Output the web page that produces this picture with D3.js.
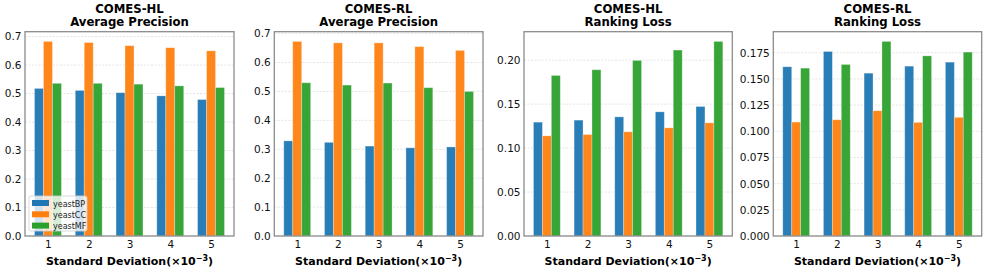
<!DOCTYPE html>
<html>
<head>
<meta charset="utf-8">
<script src="https://cdn.jsdelivr.net/npm/d3@7"></script>
<style>
  body { margin: 0; background: #fff; }
  svg { font-family: "DejaVu Sans", sans-serif; }
</style>
</head>
<body>
<svg id="chart" width="986" height="272"></svg>
<script>
// categories (standard deviation x10^-3)
const categories = [1, 2, 3, 4, 5];
const seriesNames = ['yeastBP', 'yeastCC', 'yeastMF'];
const colors = ['#1f77b4', '#ff7f0e', '#2ca02c'];

// panel values, one array per dataset
const hlAP_BP = [0.518, 0.511, 0.503, 0.492, 0.479];
const hlAP_CC = [0.683, 0.679, 0.668, 0.661, 0.650];
const hlAP_MF = [0.536, 0.536, 0.533, 0.527, 0.521];

const rlAP_BP = [0.329, 0.324, 0.311, 0.305, 0.308];
const rlAP_CC = [0.673, 0.668, 0.668, 0.655, 0.642];
const rlAP_MF = [0.530, 0.522, 0.529, 0.513, 0.500];

const hlRL_BP = [0.1295, 0.1318, 0.1355, 0.1412, 0.1473];
const hlRL_CC = [0.1139, 0.1154, 0.1185, 0.1230, 0.1287];
const hlRL_MF = [0.1826, 0.1891, 0.1997, 0.2115, 0.2213];

const rlRL_BP = [0.1616, 0.1762, 0.1555, 0.1622, 0.1660];
const rlRL_CC = [0.1088, 0.1110, 0.1196, 0.1085, 0.1133];
const rlRL_MF = [0.1603, 0.1638, 0.1858, 0.1720, 0.1756];

const titles = [
  ['COMES-HL', 'Average Precision'],
  ['COMES-RL', 'Average Precision'],
  ['COMES-HL', 'Ranking Loss'],
  ['COMES-RL', 'Ranking Loss']
];
const yTicks = [
  [0, 0.1, 0.2, 0.3, 0.4, 0.5, 0.6, 0.7],
  [0, 0.1, 0.2, 0.3, 0.4, 0.5, 0.6, 0.7],
  [0, 0.05, 0.10, 0.15, 0.20],
  [0, 0.025, 0.05, 0.075, 0.1, 0.125, 0.15, 0.175]
];
const yFormats = ['.1f', '.1f', '.2f', '.3f'];
const panelData = [
  [hlAP_BP, hlAP_CC, hlAP_MF],
  [rlAP_BP, rlAP_CC, rlAP_MF],
  [hlRL_BP, hlRL_CC, hlRL_MF],
  [rlRL_BP, rlRL_CC, rlRL_MF]
];

const xLabel = 'Standard Deviation(\u00d710';
const barW = 0.22;

const panels = [
  {x0: 25, x1: 234},
  {x0: 274.3, x1: 483},
  {x0: 524, x1: 732.3},
  {x0: 773.3, x1: 981.7}
];
const plotTop = 31.7, plotBottom = 236;

const svg = d3.select('#chart');

panels.forEach((p, pi) => {
  const data = panelData[pi];
  const ymax = d3.max(data.flat()) * 1.05;
  // matplotlib-like margins around bars
  const lo = 1 - 1.5 * barW, hi = 5 + 1.5 * barW;
  const m = (hi - lo) * 0.05;
  const x = d3.scaleLinear().domain([lo - m, hi + m]).range([p.x0, p.x1]);
  const y = d3.scaleLinear().domain([0, ymax]).range([plotBottom, plotTop]);

  const g = svg.append('g');

  // grid
  g.selectAll('.grid').data(yTicks[pi]).enter().append('line')
    .attr('x1', p.x0).attr('x2', p.x1)
    .attr('y1', d => y(d)).attr('y2', d => y(d))
    .attr('stroke', '#d9d9d9').attr('stroke-width', 0.7)
    .attr('stroke-dasharray', '2,1.5');

  // bars
  data.forEach((vals, si) => {
    g.selectAll('.bar' + si).data(vals).enter().append('rect')
      .attr('x', (d, i) => x(categories[i] + (si - 1) * barW - barW / 2))
      .attr('width', x(barW) - x(0))
      .attr('y', d => y(d))
      .attr('height', d => y(0) - y(d))
      .attr('fill', colors[si])
      .attr('fill-opacity', 0.95)
      .attr('stroke', '#fff').attr('stroke-opacity', 0.35).attr('stroke-width', 0.8);
  });

  // frame
  g.append('rect')
    .attr('x', p.x0).attr('y', plotTop)
    .attr('width', p.x1 - p.x0).attr('height', plotBottom - plotTop)
    .attr('fill', 'none').attr('stroke', '#8c8c8c').attr('stroke-width', 1.3);

  // y tick labels
  const yAxis = d3.axisLeft(y).tickValues(yTicks[pi]).tickFormat(d3.format(yFormats[pi]))
    .tickSize(0).tickPadding(3.5);
  const ya = g.append('g').attr('transform', `translate(${p.x0},0)`).call(yAxis);
  ya.select('.domain').remove();
  ya.selectAll('text').attr('font-size', 10.5).attr('fill', '#111')
    .attr('font-family', '"DejaVu Sans", sans-serif');

  // x tick labels
  const xAxis = d3.axisBottom(x).tickValues(categories).tickFormat(d3.format('d'))
    .tickSize(0).tickPadding(4.5);
  const xa = g.append('g').attr('transform', `translate(0,${plotBottom})`).call(xAxis);
  xa.select('.domain').remove();
  xa.selectAll('text').attr('font-size', 10.5).attr('fill', '#111')
    .attr('font-family', '"DejaVu Sans", sans-serif');

  const cx = (p.x0 + p.x1) / 2;
  // title
  titles[pi].forEach((t, li) => {
    g.append('text').attr('x', cx).attr('y', 13 + li * 13)
      .attr('text-anchor', 'middle').attr('font-size', 11.7).attr('font-weight', 'bold')
      .attr('fill', '#000').text(t);
  });

  // x label
  const xl = g.append('text').attr('x', cx).attr('y', 265)
    .attr('text-anchor', 'middle').attr('font-size', 11).attr('font-weight', 'bold')
    .attr('fill', '#000');
  xl.append('tspan').text(xLabel);
  xl.append('tspan').attr('dy', -4).attr('font-size', 8).text('\u22123');
  xl.append('tspan').attr('dy', 4).text(')');

  // legend only in first panel
  if (pi === 0) {
    const lg = g.append('g').attr('transform', 'translate(29,196)');
    lg.append('rect').attr('width', 58).attr('height', 35).attr('rx', 2)
      .attr('fill', '#fff').attr('fill-opacity', 0.8)
      .attr('stroke', '#d0d0d0').attr('stroke-width', 0.8);
    seriesNames.forEach((s, si) => {
      lg.append('rect').attr('x', 3).attr('y', 4 + si * 11.3)
        .attr('width', 17).attr('height', 6).attr('fill', colors[si]);
      lg.append('text').attr('x', 24).attr('y', 10.5 + si * 11.3)
        .attr('font-size', 8).attr('fill', '#222').text(s);
    });
  }
});
</script>
</body>
</html>
